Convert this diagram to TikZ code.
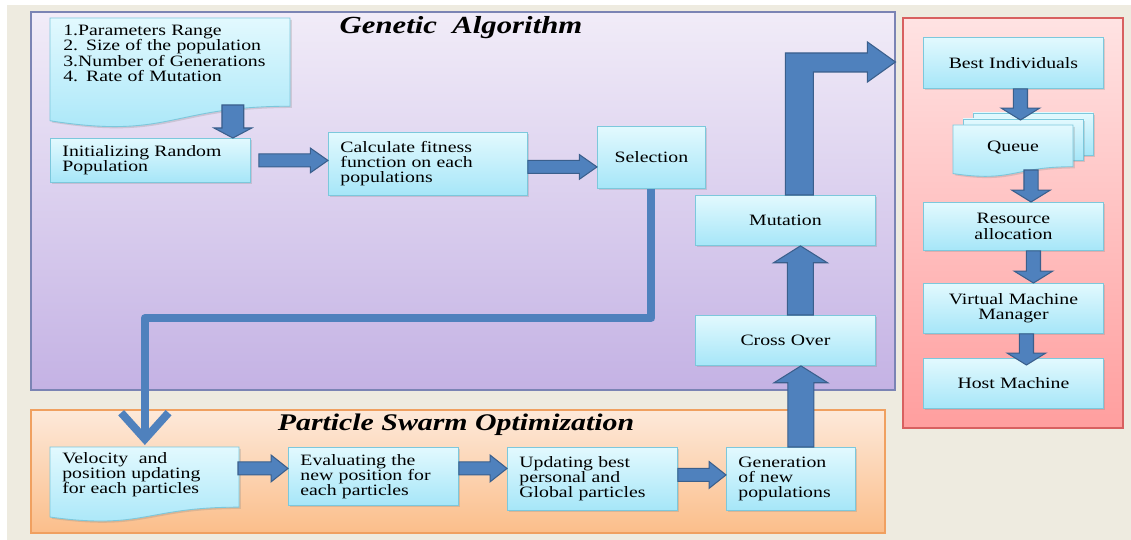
\documentclass[tikz,border=0pt]{standalone}
\usepackage{fontspec}
\newfontfamily\labelfont[FakeStretch=1.25]{Liberation Serif}
\usetikzlibrary{calc,arrows.meta,shadows}

\newcommand{\bodyfont}{\labelfont\fontsize{9}{8.6}\selectfont}
\newcommand{\titlefont}{\labelfont\fontsize{14}{16}\selectfont\bfseries\itshape}

\definecolor{pagebg}{HTML}{EEEBE0}
\definecolor{gatop}{HTML}{F1ECF8}
\definecolor{gabot}{HTML}{C4B2E4}
\definecolor{gaedge}{HTML}{7B84B4}
\definecolor{psotop}{HTML}{FDE9DA}
\definecolor{psobot}{HTML}{FBBE8A}
\definecolor{psoedge}{HTML}{F0A060}
\definecolor{rttop}{HTML}{FFE3E3}
\definecolor{rtbot}{HTML}{FF9E9E}
\definecolor{rtedge}{HTML}{D86060}
\definecolor{boxtop}{HTML}{E2F9FE}
\definecolor{boxbot}{HTML}{A6E6F8}
\definecolor{boxedge}{HTML}{7CC8DC}
\definecolor{arrfill}{HTML}{4F81BD}
\definecolor{arredge}{HTML}{3A5F8C}

\tikzset{
	blockarrow/.style={fill=arrfill, draw=arredge, line width=0.6pt, line join=miter},
	docstyle/.style={draw=boxedge, line width=0.5pt, top color=boxtop, bottom color=boxbot,
		drop shadow={opacity=0.25, shadow xshift=1pt, shadow yshift=-1pt}},
	doctext/.style={anchor=north west, inner sep=0pt, align=left, font=\bodyfont, text width=#1},
	feedline/.style={draw=arrfill, line width=4.5pt, line join=round,
		-{Straight Barb[length=15pt, width=27pt]}}
}

% block arrow going right: start #1, tip at x of #2, shaft half #3, head half #4, head length #5
\newcommand{\hblock}[5]{%
	\filldraw[blockarrow] let \p1=(#1), \p2=(#2) in
		(\x1,{\y1+#3}) -- ({\x2-#5},{\y1+#3}) -- ({\x2-#5},{\y1+#4}) -- (\x2,\y1)
		-- ({\x2-#5},{\y1-#4}) -- ({\x2-#5},{\y1-#3}) -- (\x1,{\y1-#3}) -- cycle;}

% block arrow going up or down: start #1, tip at y of #2
\newcommand{\vblock}[5]{%
	\filldraw[blockarrow] let \p1=(#1), \p2=(#2), \n1={sign(\y2-\y1)} in
		({\x1-#3},\y1) -- ({\x1-#3},{\y2-(\n1)*#5}) -- ({\x1-#4},{\y2-(\n1)*#5}) -- (\x1,\y2)
		-- ({\x1+#4},{\y2-(\n1)*#5}) -- ({\x1+#3},{\y2-(\n1)*#5}) -- ({\x1+#3},\y1) -- cycle;}

% document shape with wavy bottom: top left #1, width #2, height #3
\newcommand{\docshape}[3]{%
	\draw[docstyle] (#1) -- ($(#1)+(#2,0)$) -- ($(#1)+(#2,0.802*#3)$)
		.. controls ($(#1)+(0.5*#2,0.802*#3)$) and ($(#1)+(0.5*#2,1.107*#3)$) .. ($(#1)+(0,0.934*#3)$)
		-- cycle;}

\begin{document}
\begin{tikzpicture}[x=0.02cm, y=-0.02cm,
	flowbox/.style 2 args={draw=boxedge, line width=0.5pt, top color=boxtop, bottom color=boxbot,
		drop shadow={opacity=0.25, shadow xshift=1pt, shadow yshift=-1pt},
		anchor=north west, inner sep=0pt, align=left, font=\bodyfont,
		minimum width={#1*0.02cm}, minimum height={#2*0.02cm}, text width={(#1-24)*0.02cm}}]

	\useasboundingbox (0,0) rectangle (1131,540);
	\fill[pagebg] (7,5) rectangle (1131,540);

	% Panels
	\draw[draw=gaedge, line width=0.6pt, top color=gatop, bottom color=gabot] (31,12) rectangle (895,390);
	\draw[draw=psoedge, line width=0.6pt, top color=psotop, bottom color=psobot] (31,410) rectangle (885,533);
	\draw[draw=rtedge, line width=0.6pt, top color=rttop, bottom color=rtbot] (903,18) rectangle (1123,428);
	\node[font=\titlefont] (gatitle) at (461,28) {Genetic\ \ Algorithm};
	\node[font=\titlefont, scale=0.97] (psotitle) at (456,425) {Particle Swarm Optimization};

	% Genetic algorithm
	\coordinate (parTL) at (50,18);
	\docshape{parTL}{240}{110}
	\node[doctext={216*0.02cm}] (par) at ($(parTL)+(13,7)$)
		{1.Parameters Range\\2. Size of the population\\3.Number of Generations\\4. Rate of Mutation};
	\node[flowbox={200}{44}] (init) at (50,138) {Initializing Random\\Population};
	\node[flowbox={199}{63}] (calc) at (328,132) {Calculate fitness\\function on each\\populations};
	\node[flowbox={108}{62}, align=center] (sel) at (597,126) {Selection};
	\node[flowbox={180}{50}, align=center] (mut) at (695,195) {Mutation};
	\node[flowbox={180}{50}, align=center] (cross) at (695,315) {Cross Over};

	% Particle swarm optimization
	\coordinate (velTL) at (50,447);
	\docshape{velTL}{189}{75}
	\node[doctext={165*0.02cm}] (vel) at ($(velTL)+(12,5)$)
		{Velocity\ \ and\\position updating\\for each particles};
	\node[flowbox={170}{58}] (eval) at (288,447) {Evaluating the\\new position for\\each particles};
	\node[flowbox={170}{63}] (upd) at (507,447) {Updating best\\personal and\\Global particles};
	\node[flowbox={129}{63}] (gen) at (726,447) {Generation\\of new\\populations};

	% Resource side
	\node[flowbox={180}{51}, align=center] (best) at (923,37) {Best Individuals};
	\draw[docstyle] (973,113) rectangle (1093,155);
	\draw[docstyle] (963,119) rectangle (1083,160);
	\coordinate (queueTL) at (953,125);
	\docshape{queueTL}{120}{52}
	\node[font=\bodyfont] (queue) at (1013,148) {Queue};
	\node[flowbox={180}{48}, align=center] (res) at (923,202) {Resource\\allocation};
	\node[flowbox={180}{50}, align=center] (vmm) at (923,283) {Virtual Machine\\Manager};
	\node[flowbox={180}{50}, align=center] (host) at (923,358) {Host Machine};

	% Block arrows
	\vblock{$(init.north east)+(-18,-33)$}{$(init.north east)+(-18,0)$}{6.2pt}{10.8pt}{5.7pt}
	\hblock{$(init.east)+(8,0)$}{calc.west}{3.7pt}{7pt}{10pt}
	\hblock{$(calc.east)+(0,3)$}{sel.west}{3.7pt}{7pt}{10pt}
	\vblock{$(gen.north)+(10,0)$}{cross.south}{7.4pt}{15.3pt}{9.6pt}
	\vblock{$(cross.north)+(15,0)$}{mut.south}{7.4pt}{15.3pt}{9.6pt}
	\filldraw[blockarrow] (mut.north) -- ++(0,-142) -- ++(82,0) -- ++(0,-11) -- ++(28,20)
		-- ++(-28,20) -- ++(0,-10) -- ++(-54,0) -- ++(0,123) -- cycle;

	\hblock{$(eval.west)+(-50,-8)$}{eval.west}{3.7pt}{7.6pt}{9.6pt}
	\hblock{$(eval.east)+(0,-8)$}{upd.west}{3.7pt}{7.6pt}{9.6pt}
	\hblock{$(upd.east)+(0,-4)$}{gen.west}{3.7pt}{7.6pt}{9.6pt}

	\vblock{$(best.south)+(7,0)$}{$(queueTL)+(0,-5)$}{4pt}{11pt}{6.8pt}
	\vblock{$(queueTL)+(78,45)$}{res.north}{4pt}{11pt}{6.8pt}
	\vblock{$(res.south)+(20,0)$}{vmm.north}{4pt}{11pt}{6.8pt}
	\vblock{$(vmm.south)+(13,0)$}{$(host.north)+(0,7)$}{4pt}{11pt}{6.8pt}

	% Selection feeds the swarm
	\coordinate (turn) at (400,318);
	\draw[feedline, shorten >=4pt] (sel.south) |- (turn) -| (vel.north);

\end{tikzpicture}
\end{document}
